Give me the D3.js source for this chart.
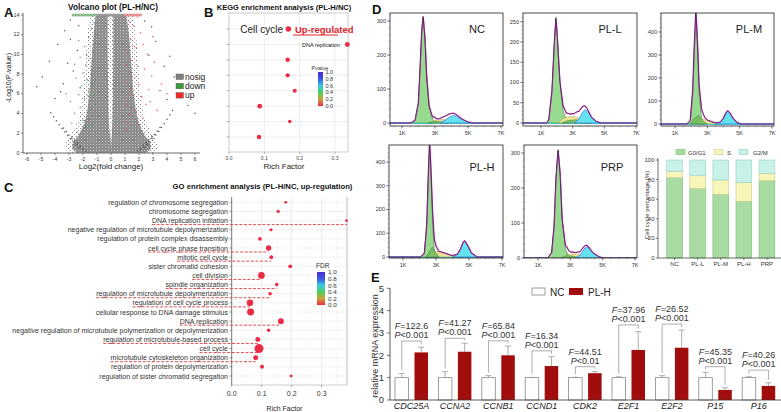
<!DOCTYPE html>
<html><head><meta charset="utf-8">
<script src="https://cdn.jsdelivr.net/npm/d3@7"></script>
<style>body{margin:0;background:#fff}svg{display:block}text{font-family:"Liberation Sans",Arial,sans-serif}</style>
</head><body>
<script>
// ================= DATA =================
// --- Panel A: volcano ---
const volcXTicks=[-6,-5,-4,-3,-2,-1,0,1,2,3,4,5,6];
const volcYTicks=[0,2,4,6,8,10,12,14];
const volcLegend=['nosig','down','up'];
const coreY=[0,0.5,1.2,2,3,4,6,8,10,12,14];
const coreLeftOuter=[-2.4,-2.9,-2.6,-2.2,-1.9,-1.7,-1.55,-1.45,-1.35,-1.25,-1.1];
const coreLeftInner=[0,0,-0.02,-0.1,-0.15,-0.18,-0.2,-0.22,-0.24,-0.24,-0.24];
const coreRightInner=[0,0,0.02,0.06,0.1,0.12,0.14,0.15,0.16,0.16,0.16];
const coreRightOuter=[2.5,3.0,2.7,2.3,2.0,1.8,1.6,1.5,1.4,1.3,1.1];
const sparseY=[0,0.5,1,2,3,4,6,8,10,12,14];
const sparseLeft=[-3.0,-3.4,-3.2,-2.8,-2.4,-2.2,-2.0,-1.9,-1.8,-1.7,-1.5];
const sparseRight=[3.1,3.5,3.3,2.9,2.5,2.3,2.1,2.0,1.9,1.8,1.6];
const nosigPts=[[-5.3,6.7],[-4.9,7.7],[-4.4,9.3],[-3.8,11.0],[-3.3,12.4],[-2.9,13.5],[-2.3,12.9],[-2.9,11.5],[-2.4,10.4],[-3.1,9.1],[-2.7,8.3],[-3.4,7.0],[-2.2,6.6],[-4.0,5.5],[-3.6,6.2],
[3.2,11.3],[2.9,12.8],[2.4,13.4],[4.2,9.8],[3.8,8.8],[5.0,6.7],[4.5,7.7],[3.5,6.3],[4.0,5.4],[2.7,9.9],[5.5,4.8],[6.0,4.0],
[-2.3,0.5],[-2.5,0.8],[-2.7,1.1],[-2.9,1.4],[-3.1,1.75],[-3.3,2.1],[-3.5,2.45],[-3.7,2.85],[-3.9,3.25],[-4.1,3.65],[-4.3,4.05],
[-2.0,0.3],[-2.2,0.55],[-2.4,0.85],[-2.6,1.15],[-2.8,1.45],[-3.0,1.8],[-3.2,2.15],[-3.4,2.5],
[-1.8,0.2],[-2.0,0.45],[-2.2,0.7],[-2.4,1.0],[-2.6,1.3],[-2.8,1.6],
[2.4,0.5],[2.6,0.8],[2.8,1.1],[3.0,1.45],[3.2,1.8],[3.4,2.15],[3.6,2.55],[3.8,2.95],[4.0,3.4],[4.2,3.85],[4.4,4.3],
[2.1,0.3],[2.3,0.55],[2.5,0.85],[2.7,1.15],[2.9,1.5],[3.1,1.85],[3.3,2.2],[3.5,2.6],
[1.9,0.2],[2.1,0.45],[2.3,0.75],[2.5,1.05],[2.7,1.35],[2.9,1.7]];
const downPts=[[-1.1,2.2],[-1.2,3.0],[-1.3,3.8],[-1.4,4.5],[-1.5,5.2],[-1.2,5.9],[-1.6,6.3],[-1.3,6.9],[-1.7,7.4],[-1.4,8.0],[-1.2,8.6],[-1.8,8.9],[-1.5,9.6],[-1.3,10.3],[-1.9,10.8],[-1.6,11.7],[-1.8,2.6],[-2.0,3.3],[-1.7,4.1],[-2.2,4.6],[-1.9,5.5],[-2.3,5.9],[-2.1,6.8],[-2.5,7.6],[-2.0,8.1],[-2.6,9.0],[-2.2,9.7],[-2.8,3.0],[-2.6,4.0],[-2.4,2.1],[-1.1,4.9],[-1.1,7.4],[-1.25,9.3],[-1.15,11.1],[-2.9,5.2],[-3.2,6.0],[-1.55,3.4],[-1.35,2.7],[-1.65,5.8],[-1.45,7.1],[-1.75,9.9],[-1.05,12.0],[-1.4,12.6],[-2.3,11.4],[-1.2,13.2]];
const upPts=[[1.1,2.3],[1.2,3.1],[1.3,3.9],[1.5,4.6],[1.2,5.3],[1.6,5.8],[1.4,6.5],[1.1,7.1],[1.7,7.6],[1.3,8.2],[1.9,8.8],[1.5,9.4],[1.2,10.1],[1.8,10.7],[1.4,11.5],[2.1,12.2],[1.6,12.9],[2.0,2.8],[2.3,3.5],[1.8,4.2],[2.5,4.9],[2.2,5.7],[2.7,6.4],[2.0,6.9],[2.9,7.8],[2.4,8.5],[3.1,9.2],[2.6,10.0],[2.3,11.0],[3.3,4.3],[2.8,5.2],[1.15,9.0],[1.05,4.8],[1.35,13.3],[1.9,13.8],[3.6,7.0],[4.0,6.0],[3.0,11.8],[1.25,6.0],[1.55,10.8]];
const topDownX=[-2.7,-2.55,-2.4,-2.25,-2.1,-1.95,-1.8,-1.65,-1.5,-1.35,-1.2,-1.05];
const topNosigX=[-0.9,-0.75,-0.6,-0.45,-0.3,-0.15,0,0.15,0.3,0.45,0.6,0.75,0.9];
const topUpX=[1.05,1.2,1.35,1.5,1.65,1.8,1.95,2.1];

// --- Panel B: KEGG ---
const keggLabels=['Cell cycle','DNA replication',null,null,null,null,null,null];
const keggRich=[0.168,0.335,0.166,0.166,0.186,0.087,0.172,0.085];
const keggCount=[15,12,10,9,8,11,6,10];
const keggPval=[0,0,0,0,0,0,0,0];
const richTicks=[0,0.1,0.2,0.3];
const richTickLabels=['0.0','0.1','0.2','0.3'];
const colorTicks=[1.0,0.8,0.6,0.4,0.2,0.0];
const colorTickLabels=['1.0','0.8','0.6','0.4','0.2','0.0'];

// --- Panel C: GO ---
const goTerms=['regulation of chromosome segregation','chromosome segregation','DNA replication initiation','negative regulation of microtubule depolymerization','regulation of protein complex disassembly','cell cycle phase transition','mitotic cell cycle','sister chromatid cohesion','cell division','spindle organization','regulation of microtubule depolymerization','regulation of cell cycle process','cellular response to DNA damage stimulus','DNA replication','negative regulation of microtubule polymerization or depolymerization','regulation of microtubule-based process','cell cycle','microtubule cytoskeleton organization','regulation of protein depolymerization','regulation of sister chromatid segregation'];
const goRich=[0.18,0.155,0.384,0.131,0.094,0.123,0.132,0.195,0.099,0.15,0.128,0.061,0.063,0.164,0.123,0.087,0.091,0.08,0.101,0.198];
const goCount=[4,5,4,5,7,14,7,7,22,6,6,21,24,17,6,12,40,12,8,4];
const goFDR=[0,0,0,0,0,0,0,0,0,0,0,0,0,0,0,0,0,0,0,0];
const goHighlight=[false,false,true,false,false,true,true,false,true,true,true,true,false,true,false,true,true,true,false,false];

// --- Panel D: flow histograms (x in K units, y = cell count) ---
const histNames=['NC','PL-L','PL-M','PL-H','PRP'];
const histYTicks=[[0,100,200,300],[0,50,100,150,200,250],[0,100,200,300,400],[0,100,200,300,400],[0,100,200,300]];
const histXTicks=[1,3,5,7];
const histXLabels=['1K','3K','5K','7K'];
const ncG1=[[1.55,0],[1.8,8],[2.0,60],[2.1,160],[2.2,270],[2.29,314],[2.4,250],[2.5,140],[2.65,50],[2.85,12],[3.1,0]];
const ncG1b=[[2.6,0],[3.0,5],[3.4,3],[3.8,0]];
const ncS=[[2.7,0],[3.0,7],[3.4,10],[3.8,10],[4.2,6],[4.6,2],[5.0,0]];
const ncG2=[[3.3,0],[3.6,8],[3.9,18],[4.1,22],[4.3,20],[4.6,11],[5.0,3],[5.3,0]];
const plG1=[[1.35,0],[1.5,8],[1.7,80],[1.85,200],[1.95,262],[2.05,205],[2.2,100],[2.4,30],[2.6,6],[2.8,0]];
const plG1b=[[2.3,0],[2.7,6],[3.2,8],[3.7,4],[4.2,0]];
const plS=[[2.1,0],[2.4,12],[2.8,16],[3.2,15],[3.6,10],[3.9,4],[4.2,0]];
const plG2=[[3.1,0],[3.4,10],[3.65,28],[3.8,33],[3.95,28],[4.2,14],[4.5,4],[4.8,0]];
const plmG1=[[1.75,0],[1.95,15],[2.1,130],[2.2,320],[2.3,470],[2.4,320],[2.5,120],[2.65,25],[2.85,0]];
const plmG1b=[[1.95,0],[2.2,25],[2.45,38],[2.7,15],[3.0,0]];
const plmS=[[2.35,0],[2.6,20],[2.9,20],[3.2,12],[3.5,5],[3.8,0]];
const plmG2=[[3.5,0],[3.8,8],[4.0,25],[4.15,48],[4.27,58],[4.4,48],[4.6,25],[4.85,6],[5.1,0]];
const phG1=[[2.05,0],[2.3,15],[2.45,140],[2.55,350],[2.62,453],[2.7,330],[2.8,130],[2.9,30],[3.0,8],[3.15,0]];
const phG1b=[[2.4,0],[2.65,30],[2.8,42],[2.95,20],[3.2,0]];
const phS=[[2.5,0],[2.75,18],[3.0,24],[3.3,22],[3.6,15],[3.9,8],[4.2,3],[4.5,0]];
const phG2=[[4.0,0],[4.3,10],[4.5,35],[4.65,62],[4.75,68],[4.9,52],[5.15,18],[5.5,0]];
const prpG1=[[1.6,0],[1.85,15],[2.0,90],[2.12,230],[2.25,310],[2.38,240],[2.5,110],[2.7,25],[2.9,5],[3.05,0]];
const prpG1b=[[2.4,0],[2.8,7],[3.2,5],[3.6,0]];
const prpS=[[2.5,0],[2.8,9],[3.2,12],[3.6,10],[4.0,5],[4.4,0]];
const prpG2=[[3.3,0],[3.6,8],[3.85,26],[4.0,32],[4.15,28],[4.4,15],[4.8,3],[5.1,0]];

// --- Panel D: cell cycle percentages ---
const cycleGroups=['NC','PL-L','PL-M','PL-H','PRP'];
const cyclePhases=['G0/G1','S','G2/M'];
const pctG1=[82,71,65,58,79];
const pctS=[6.5,13,14.6,19,7.4];
const pctG2=[11.5,16,20.4,23,13.6];
const pctTicks=[0,20,40,60,80,100];

// --- Panel E: qPCR ---
const eGenes=['CDC25A','CCNA2','CCNB1','CCND1','CDK2','E2F1','E2F2','P15','P16'];
const eGroups=['NC','PL-H'];
const eNC=[1,1,1,1,1,1,1,1,1];
const eNCerr=[1.19,1.27,1.09,1.01,1.02,1.04,1.09,1.24,1.04];
const ePLH=[2.13,2.16,2.0,1.52,1.2,2.24,2.34,0.45,0.63];
const ePLHerr=[2.36,2.54,2.41,1.94,1.27,3.06,3.13,0.55,0.77];
const eF=['122.6','41.27','65.84','16.34','44.51','37.96','26.52','45.35','40.26'];
const eP=['<0.001','<0.001','<0.001','<0.001','<0.01','<0.001','<0.001','<0.001','<0.001'];
const eBracket=[2.64,2.76,2.65,2.2,1.49,3.36,3.4,1.49,1.34];
const eYTicks=[0,1,2,3,4,5];

// ================= DRAW =================
const W=781,H=412;
const svg=d3.select('body').append('svg').attr('width',W).attr('height',H);
svg.append('rect').attr('width',W).attr('height',H).attr('fill','#fff');
const defs=svg.append('defs');
function T(g,x,y,s,o){const t=g.append('text').attr('x',x).attr('y',y).text(s);if(o)for(const k in o)t.attr(k,o[k]);return t;}
function fitW(t,w){const L=t.node().getComputedTextLength();if(L>0)t.attr('font-size',parseFloat(t.attr('font-size'))*w/L);return t;}
function L(g,x1,y1,x2,y2,c,w,o){const l=g.append('line').attr('x1',x1).attr('y1',y1).attr('x2',x2).attr('y2',y2).attr('stroke',c).attr('stroke-width',w);if(o)for(const k in o)l.attr(k,o[k]);return l;}

// speckle texture for dense point cloud
const pat=defs.append('pattern').attr('id','speck').attr('width',3).attr('height',3).attr('patternUnits','userSpaceOnUse');
pat.append('rect').attr('width',3).attr('height',3).attr('fill','#858585');
pat.append('rect').attr('x',0).attr('y',0).attr('width',1).attr('height',1).attr('fill','#d8d8d8');
pat.append('rect').attr('x',1.5).attr('y',1.5).attr('width',1).attr('height',1).attr('fill','#bdbdbd');
const pat2=defs.append('pattern').attr('id','speck2').attr('width',4).attr('height',4).attr('patternUnits','userSpaceOnUse');
pat2.append('rect').attr('x',0).attr('y',0).attr('width',1).attr('height',1).attr('fill','#777');
pat2.append('rect').attr('x',2).attr('y',2).attr('width',1).attr('height',1).attr('fill','#999');

// panel letters
[['A',4,17],['B',204,17],['C',4,192],['D',372,14],['E',371,282]].forEach(d=>T(svg,d[1],d[2],d[0],{'font-size':13,'font-weight':'bold','fill':'#111'}));

const rainbow=d3.scaleLinear().domain([0,0.2,0.4,0.6,0.8,1]).range(['#ec2a46','#c9a33a','#48d35c','#3ac8e6','#3b56e2','#4a2bd4']);
function gradient(id){const gr=defs.append('linearGradient').attr('id',id).attr('x1',0).attr('y1',1).attr('x2',0).attr('y2',0);
  d3.range(0,1.01,0.1).forEach(v=>gr.append('stop').attr('offset',v).attr('stop-color',rainbow(v)));}
gradient('rb');

// ---------- Panel A ----------
{
const g=svg.append('g');
const x=d3.scaleLinear().domain([-6,6]).range([27,195]);
const y=d3.scaleLinear().domain([0,14]).range([152.7,15]);
fitW(T(g,113,10,'Volcano plot (PL-H/NC)',{'font-size':10,'font-weight':'bold','text-anchor':'middle','font-family':'Lato','fill':'#111'}),90);
const sparse=sparseY.map((v,i)=>({y:v,l:sparseLeft[i],r:sparseRight[i]}));
g.append('path').datum(sparse).attr('d',d3.area().y(d=>y(d.y)).x0(d=>x(d.l)).x1(d=>x(d.r)).curve(d3.curveBasis)).attr('fill','url(#speck2)');
const core=coreY.map((v,i)=>({y:v,lo:coreLeftOuter[i],li:coreLeftInner[i],ri:coreRightInner[i],ro:coreRightOuter[i]}));
g.append('path').datum(core).attr('d',d3.area().y(d=>y(d.y)).x0(d=>x(d.lo)).x1(d=>x(d.li)).curve(d3.curveBasis)).attr('fill','url(#speck)');
g.append('path').datum(core).attr('d',d3.area().y(d=>y(d.y)).x0(d=>x(d.ri)).x1(d=>x(d.ro)).curve(d3.curveBasis)).attr('fill','url(#speck)');
g.selectAll('.ns').data(nosigPts).join('circle').attr('cx',d=>x(d[0])).attr('cy',d=>y(d[1])).attr('r',0.75).attr('fill','#555');
g.selectAll('.dn').data(downPts).join('circle').attr('cx',d=>x(d[0])).attr('cy',d=>y(d[1])).attr('r',0.8).attr('fill','#3f9a3f').attr('opacity',0.8);
g.selectAll('.up').data(upPts).join('circle').attr('cx',d=>x(d[0])).attr('cy',d=>y(d[1])).attr('r',0.8).attr('fill','#e84a4a').attr('opacity',0.8);
g.selectAll('.td').data(topDownX).join('circle').attr('cx',d=>x(d)).attr('cy',y(14)).attr('r',1.6).attr('fill','#8bbb8b');
g.selectAll('.tn').data(topNosigX).join('circle').attr('cx',d=>x(d)).attr('cy',y(14)).attr('r',1.6).attr('fill','#999');
g.selectAll('.tu').data(topUpX).join('circle').attr('cx',d=>x(d)).attr('cy',y(14)).attr('r',1.6).attr('fill','#e69090');
L(g,23,13,23,153,'#444',0.8); L(g,23,153,200,153,'#444',0.8);
volcYTicks.forEach(v=>{L(g,21,y(v),23,y(v),'#444',0.6);T(g,19.5,y(v)+1.8,v,{'font-size':5.5,'text-anchor':'end','fill':'#333'});});
volcXTicks.forEach(v=>{L(g,x(v),153,x(v),155,'#444',0.6);T(g,x(v),160.5,v,{'font-size':5,'text-anchor':'middle','fill':'#333'});});
T(g,111,169,'Log2(fold change)',{'font-size':8,'text-anchor':'middle','fill':'#222'});
T(g,0,0,'-Log10(P-value)',{'font-size':7,'text-anchor':'middle','fill':'#222','transform':'translate(11,78) rotate(-90)'});
const lc=['#7f7f7f','#3a9a3a','#f02a2a'];
volcLegend.forEach((s,i)=>{const yy=74+i*9.3;g.append('rect').attr('x',176).attr('y',yy).attr('width',7.5).attr('height',5.5).attr('fill',lc[i]).attr('stroke','#555').attr('stroke-width',0.4);
 T(g,185,yy+5.5,s,{'font-size':8.5,'fill':'#222'});});
}

// ---------- Panel B ----------
{
const g=svg.append('g');
const x=d3.scaleLinear().domain([0,0.3]).range([229,335]);
const y=d3.scalePoint().domain(d3.range(keggRich.length)).range([29,137]);
const r=d3.scaleSqrt().domain([0,40]).range([0,4.5]);
fitW(T(g,284,10,'KEGG enrichment analysis (PL-H/NC)',{'font-size':10,'font-weight':'bold','text-anchor':'middle','font-family':'Lato','fill':'#111'}),135);
richTicks.slice(1).forEach(v=>L(g,x(v),13,x(v),152,'#e3e3e3',0.6));
keggRich.forEach((v,i)=>L(g,229,y(i),348,y(i),'#e3e3e3',0.6));
g.append('rect').attr('x',229).attr('y',13).attr('width',119).attr('height',139).attr('fill','none').attr('stroke','#b5b5b5').attr('stroke-width',0.7);
keggRich.forEach((v,i)=>L(g,226.5,y(i),229,y(i),'#777',0.6));
richTicks.forEach((v,i)=>{L(g,x(v),152,x(v),154,'#777',0.5);T(g,x(v),159.5,richTickLabels[i],{'font-size':5,'text-anchor':'middle','fill':'#444'});});
T(g,284,169,'Rich Factor',{'font-size':8,'text-anchor':'middle','fill':'#222','font-family':'Lato'});
g.selectAll('.kp').data(keggRich).join('circle').attr('cx',d=>x(d)).attr('cy',(d,i)=>y(i)).attr('r',(d,i)=>r(keggCount[i])).attr('fill',(d,i)=>rainbow(keggPval[i]));
T(g,283,32.5,keggLabels[0],{'font-size':10,'text-anchor':'end','fill':'#222','font-family':'Lato'});
T(g,295,32.5,'Up-regulated',{'font-size':9.5,'font-weight':'bold','fill':'#e0262d','font-family':'Lato'});
L(g,293,35,338,35,'#e0262d',1);
T(g,340,46.8,keggLabels[1],{'font-size':5.5,'text-anchor':'end','fill':'#222'});
g.append('rect').attr('x',318).attr('y',72).attr('width',5).attr('height',34).attr('fill','url(#rb)');
T(g,320,69.5,'Pvalue',{'font-size':5.5,'text-anchor':'middle','fill':'#333'});
const cy=d3.scaleLinear().domain([0,1]).range([106,72]);
colorTicks.forEach((v,i)=>{L(g,323,cy(v),324.5,cy(v),'#fff',0.5);T(g,325.5,cy(v)+2,colorTickLabels[i],{'font-size':5.5,'fill':'#333'});});
}

// ---------- Panel C ----------
{
const g=svg.append('g');
const x=d3.scaleLinear().domain([0,0.3]).range([231.7,321.7]);
const y=d3.scalePoint().domain(goTerms).range([202.3,376]);
const r=d3.scaleSqrt().domain([0,40]).range([0,4.5]);
fitW(T(g,262.5,188.5,'GO enrichment analysis (PL-H/NC, up-regulation)',{'font-size':10,'font-weight':'bold','text-anchor':'middle','font-family':'Lato','fill':'#111'}),180);
[0.1,0.2,0.3].forEach(v=>L(g,x(v),197,x(v),385,'#e3e3e3',0.6));
[0.05,0.15,0.25,0.35].forEach(v=>L(g,x(v),197,x(v),385,'#f2f2f2',0.5));
goTerms.forEach(t=>L(g,231.7,y(t),347,y(t),'#e8e8e8',0.6));
L(g,347,197,347,385,'#aaa',0.8);
L(g,231.7,197,231.7,385,'#555',0.8); L(g,231.7,385,347,385,'#aaa',0.6);
richTicks.forEach((v,i)=>{L(g,x(v),385,x(v),387,'#555',0.5);T(g,x(v),396,richTickLabels[i],{'font-size':7,'text-anchor':'middle','fill':'#333'});});
T(g,284.5,410.5,'Rich Factor',{'font-size':7,'text-anchor':'middle','fill':'#222'});
const ref=T(g,228,0,goTerms[14],{'font-size':7});
fitW(ref,216); const fs=ref.attr('font-size'); ref.remove();
goTerms.forEach((t,i)=>{
 L(g,229.5,y(t),231.7,y(t),'#555',0.6);
 const tx=T(g,228,y(t)+2.5,t,{'font-size':fs,'text-anchor':'end','fill':'#333'});
 if(goHighlight[i]){const w=tx.node().getComputedTextLength();
   L(g,228-w,y(t)+4,Math.min(x(goRich[i]),347),y(t)+4,'#e0393e',0.9,{'stroke-dasharray':'3,1.6'});}
});
g.selectAll('.gp').data(goRich).join('circle').attr('cx',d=>Math.min(x(d),346.5)).attr('cy',(d,i)=>y(goTerms[i])).attr('r',(d,i)=>r(goCount[i])).attr('fill',(d,i)=>rainbow(goFDR[i]));
g.append('rect').attr('x',317).attr('y',272).attr('width',8).attr('height',33).attr('fill','url(#rb)');
T(g,316,267.5,'FDR',{'font-size':6.5,'fill':'#333'});
const cy=d3.scaleLinear().domain([0,1]).range([305,272]);
colorTicks.forEach((v,i)=>{L(g,325,cy(v),327,cy(v),'#fff',0.5);T(g,328,cy(v)+2.3,colorTickLabels[i],{'font-size':6.2,'fill':'#333'});});
}

// ---------- Panel D histograms ----------
const histLayout=[
 {f:[390,13,503,126],x1:402,x7:501,y0:123,yT:21,lab:[477,33]},
 {f:[523,13,637,126],x1:541,x7:636,y0:123,yT:21.7,lab:[610,33]},
 {f:[661,13,774,126],x1:675,x7:772,y0:124,yT:32,lab:[749,33]},
 {f:[389,145,503,258],x1:403,x7:502,y0:257,yT:162,lab:[482,171]},
 {f:[524,145,637,258],x1:538,x7:635,y0:258,yT:153,lab:[612,171]}];
const histG1=[ncG1,plG1,plmG1,phG1,prpG1], histG1b=[ncG1b,plG1b,plmG1b,phG1b,prpG1b], histS=[ncS,plS,plmS,phS,prpS], histG2=[ncG2,plG2,plmG2,phG2,prpG2];
function interp(arr,k){if(k<=arr[0][0]||k>=arr[arr.length-1][0])return 0;let i=0;while(arr[i+1][0]<k)i++;const t=(k-arr[i][0])/(arr[i+1][0]-arr[i][0]);return arr[i][1]+t*(arr[i+1][1]-arr[i][1]);}
histNames.forEach((nm,i)=>{
 const lay=histLayout[i],f=lay.f,g=svg.append('g');
 const ticks=histYTicks[i],vT=ticks[ticks.length-1];
 const x=d3.scaleLinear().domain([1,7]).range([lay.x1,lay.x7]);
 const y=d3.scaleLinear().domain([0,vT]).range([lay.y0,lay.yT]);
 const cid='clip'+i;
 defs.append('clipPath').attr('id',cid).append('rect').attr('x',f[0]).attr('y',f[1]).attr('width',f[2]-f[0]).attr('height',f[3]-f[1]);
 const pg=g.append('g').attr('clip-path',`url(#${cid})`);
 const area=d3.area().x(d=>x(d[0])).y0(y(0)).y1(d=>y(d[1]));
 pg.append('line').attr('x1',f[0]).attr('x2',f[2]).attr('y1',y(0)).attr('y2',y(0)).attr('stroke','#45d9ec').attr('stroke-width',2);
 pg.append('path').attr('d',area(histG1[i])).attr('fill','#96d98f').attr('stroke','#2f6f2f').attr('stroke-width',0.5);
 pg.append('path').attr('d',area(histS[i])).attr('fill','#e8e08e').attr('fill-opacity',0.9).attr('stroke','#9b9640').attr('stroke-width',0.4);
 pg.append('path').attr('d',area(histG1b[i])).attr('fill','#6dbb5c').attr('fill-opacity',0.85).attr('stroke','#2f6f2f').attr('stroke-width',0.4);
 pg.append('path').attr('d',area(histG2[i])).attr('fill','#62e3ef').attr('stroke','#2d62d0').attr('stroke-width',0.6);
 const k0=x.invert(f[0]),k1=x.invert(f[2]);
 const grid=d3.range(k0,k1,0.02).map(k=>[k,interp(histG1[i],k)+interp(histG1b[i],k)+interp(histS[i],k)+interp(histG2[i],k)]);
 const line=d3.line().x(d=>x(d[0])).y(d=>y(d[1]));
 pg.append('path').attr('d',line(grid)).attr('fill','none').attr('stroke','#e52ee3').attr('stroke-width',1.1);
 pg.append('path').attr('d',line(grid.map(d=>[d[0]-0.015,d[1]]))).attr('fill','none').attr('stroke','#222').attr('stroke-width',0.7);
 g.append('rect').attr('x',f[0]).attr('y',f[1]).attr('width',f[2]-f[0]).attr('height',f[3]-f[1]).attr('fill','none').attr('stroke','#222').attr('stroke-width',0.8);
 const step=ticks[1]-ticks[0];
 d3.range(0,vT+step*1.5,step/5).forEach(v=>{const yy=y(v);if(yy<f[1]||yy>f[3])return;L(g,f[0]-1.3,yy,f[0],yy,'#333',0.4);});
 ticks.forEach(v=>{L(g,f[0]-2.8,y(v),f[0],y(v),'#333',0.6);T(g,f[0]-4,y(v)+1.8,v,{'font-size':5.5,'text-anchor':'end','fill':'#333'});});
 d3.range(0.5,7.01,0.5).forEach(v=>{const xx=x(v);if(xx<f[0]||xx>f[2])return;L(g,xx,f[3],xx,f[3]+1.3,'#333',0.4);});
 histXTicks.forEach((v,j)=>{L(g,x(v),f[3],x(v),f[3]+2.5,'#333',0.6);T(g,x(v),f[3]+8.5,histXLabels[j],{'font-size':5.5,'text-anchor':'middle','fill':'#333'});});
 T(g,lay.lab[0],lay.lab[1],nm,{'font-size':11,'text-anchor':'middle','fill':'#222','font-family':'Lato'});
});

// ---------- Panel D stacked bars ----------
{
const g=svg.append('g');
const x=d3.scaleBand().domain(cycleGroups).range([663,778.5]).paddingInner(0.32).paddingOuter(0.16);
const y=d3.scaleLinear().domain([0,100]).range([258,160]);
const fills=['#a9dca3','#f8f5b8','#c8f2e9'], strokes=['#86c47f','#d6d394','#9fd6cb'];
const stacks=cycleGroups.map((c,i)=>[pctG1[i],pctS[i],pctG2[i]]);
stacks.forEach((s,i)=>{let acc=0;s.forEach((v,j)=>{g.append('rect').attr('x',x(cycleGroups[i])).attr('y',y(acc+v)).attr('width',x.bandwidth()).attr('height',y(acc)-y(acc+v)).attr('fill',fills[j]).attr('stroke',strokes[j]).attr('stroke-width',0.7);acc+=v;});});
L(g,658,158,658,258,'#333',0.7); L(g,658,258,781,258,'#333',0.7);
pctTicks.forEach(v=>{L(g,656,y(v),658,y(v),'#333',0.6);T(g,654.5,y(v)+2,v,{'font-size':6,'text-anchor':'end','fill':'#333'});});
cycleGroups.forEach(c=>{const cx=x(c)+x.bandwidth()/2;L(g,cx,258,cx,260,'#333',0.6);T(g,cx,266,c,{'font-size':6,'text-anchor':'middle','fill':'#333'});});
T(g,0,0,'Cell cycle percentage (%)',{'font-size':6,'text-anchor':'middle','fill':'#333','transform':'translate(649,205) rotate(-90)'});
const lx=[676,714,739],tx=[688,727,753];
cyclePhases.forEach((p,j)=>{g.append('rect').attr('x',lx[j]).attr('y',149.5).attr('width',9).attr('height',5).attr('fill',fills[j]).attr('stroke',strokes[j]).attr('stroke-width',0.7);T(g,tx[j],154.5,p,{'font-size':6,'fill':'#333'});});
}

// ---------- Panel E ----------
{
const g=svg.append('g');
const x0=d3.scaleBand().domain(eGenes).range([389.8,780.4]);
const x1=d3.scaleBand().domain(eGroups).range([-16.5,16.5]).paddingInner(0.307);
const y=d3.scaleLinear().domain([0,5]).range([400,288.3]);
const cx=gn=>x0(gn)+x0.bandwidth()/2;
eGenes.forEach((gn,i)=>{
 const c=cx(gn);
 const bn=c+x1('NC'),bp=c+x1('PL-H'),bw=x1.bandwidth();
 L(g,bn+bw/2,y(eNC[i]),bn+bw/2,y(eNCerr[i]),'#999',0.8); L(g,bn+bw/2-3,y(eNCerr[i]),bn+bw/2+3,y(eNCerr[i]),'#999',0.8);
 L(g,bp+bw/2,y(ePLH[i]),bp+bw/2,y(ePLHerr[i]),'#999',0.8); L(g,bp+bw/2-3,y(ePLHerr[i]),bp+bw/2+3,y(ePLHerr[i]),'#999',0.8);
 g.append('rect').attr('x',bn).attr('y',y(eNC[i])).attr('width',bw).attr('height',y(0)-y(eNC[i])).attr('fill','#fff').attr('stroke','#888').attr('stroke-width',0.8);
 g.append('rect').attr('x',bp).attr('y',y(ePLH[i])).attr('width',bw).attr('height',y(0)-y(ePLH[i])).attr('fill','#a10d0d');
 const by=y(eBracket[i]);
 g.append('path').attr('d',`M${bn+bw/2},${y(eNCerr[i])-3}V${by}H${bp+bw/2}V${y(ePLHerr[i])-3}`).attr('fill','none').attr('stroke','#999').attr('stroke-width',0.8);
 const tf=g.append('text').attr('x',c).attr('y',by-12).attr('text-anchor','middle').attr('font-size',9).attr('fill','#333');
 tf.append('tspan').attr('font-style','italic').text('F'); tf.append('tspan').text('='+eF[i]);
 const tp=g.append('text').attr('x',c).attr('y',by-3).attr('text-anchor','middle').attr('font-size',9).attr('fill','#333');
 tp.append('tspan').attr('font-style','italic').text('P'); tp.append('tspan').text(eP[i]);
 T(g,c,409,gn,{'font-size':9,'font-style':'italic','text-anchor':'middle','fill':'#222'});
});
L(g,390,288,390,400,'#333',0.8); L(g,390,400,781,400,'#333',0.8);
eYTicks.forEach(v=>{L(g,387,y(v),390,y(v),'#333',0.7);T(g,384,y(v)+3.3,v,{'font-size':9.5,'text-anchor':'end','fill':'#333'});});
T(g,0,0,'relative mRNA expression',{'font-size':9,'text-anchor':'middle','fill':'#333','transform':'translate(378,346) rotate(-90)'});
g.append('rect').attr('x',532).attr('y',288).attr('width',13).attr('height',7).attr('fill','#fff').attr('stroke','#888').attr('stroke-width',0.8);
T(g,550,295.5,'NC',{'font-size':10,'fill':'#222'});
g.append('rect').attr('x',569).attr('y',288).attr('width',14).attr('height',7).attr('fill','#a10d0d');
T(g,588,295.5,'PL-H',{'font-size':10,'fill':'#222'});
}
</script>
</body></html>
